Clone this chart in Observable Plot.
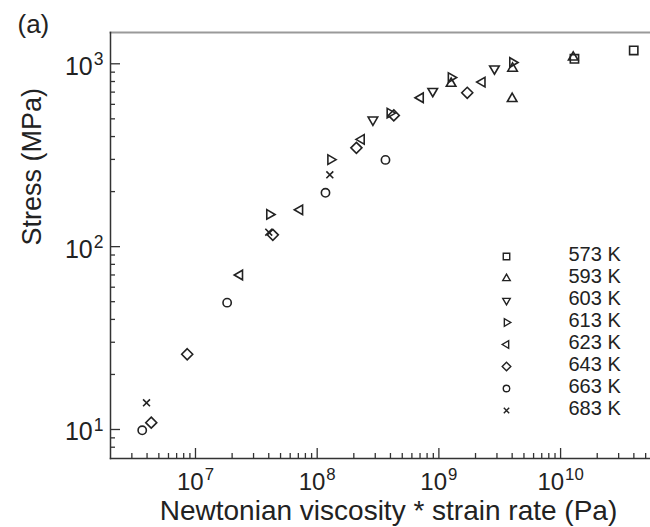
<!DOCTYPE html>
<html><head><meta charset="utf-8">
<script src="https://cdn.jsdelivr.net/npm/d3@7"></script>
<script src="https://cdn.jsdelivr.net/npm/@observablehq/plot@0.6"></script>
<style>
html,body{margin:0;padding:0;background:#fff;}
#wrap{position:relative;width:650px;height:527px;font-family:"Liberation Sans",Arial,Helvetica,sans-serif;}
#legend{position:absolute;left:490px;top:240px;}
svg{display:block;}
</style></head><body><div id="wrap"></div>
<script>
// ---- data ----
const temps = ["573 K","593 K","603 K","613 K","623 K","643 K","663 K","683 K"];
const x573 = [1.3e10, 3.99e10];
const y573 = [1065, 1183];
const x593 = [1.26e9, 4.03e9, 4.0e9, 1.27e10];
const y593 = [780, 943, 644, 1085];
const x603 = [2.87e8, 8.9e8, 2.86e9];
const y603 = [494, 708, 940];
const x613 = [4.06e7, 1.29e8, 3.96e8, 1.26e9, 4.03e9];
const y613 = [150, 299, 537, 841, 1016];
const x623 = [2.31e7, 7.2e7, 2.31e8, 7.06e8, 2.27e9];
const y623 = [70, 159, 386, 652, 794];
const x643 = [4.33e6, 8.55e6, 4.32e7, 2.1e8, 4.26e8, 1.71e9];
const y643 = [10.9, 25.8, 116, 347, 522, 694];
const x663 = [3.65e6, 1.82e7, 1.17e8, 3.64e8];
const y663 = [9.9, 49.4, 197, 298];
const x683 = [3.96e6, 4.0e7, 1.27e8];
const y683 = [14, 120, 247];

const xTickExps = [7, 8, 9, 10];
const yTickExps = [1, 2, 3];
const xLabel = "Newtonian viscosity * strain rate (Pa)";
const yLabel = "Stress (MPa)";
const panelLabel = "(a)";

// ---- build table ----
const seriesX = [x573, x593, x603, x613, x623, x643, x663, x683];
const seriesY = [y573, y593, y603, y613, y623, y643, y663, y683];
const points = [];
temps.forEach((t, i) => seriesX[i].forEach((x, j) => points.push({temp: t, x, y: seriesY[i][j]})));

// ---- custom symbols ----
function mk(draw) { return {draw(c, size) { draw(c, Math.sqrt(size / Math.PI)); }}; }
const s3 = Math.sqrt(3) / 2;
function tri(c, pts) { c.moveTo(pts[0][0], pts[0][1]); c.lineTo(pts[1][0], pts[1][1]); c.lineTo(pts[2][0], pts[2][1]); c.closePath(); }
const symSquare = mk((c, r) => { const h = r * 0.9; c.rect(-h, -h, 2 * h, 2 * h); });
const symUp = mk((c, r) => { const R = r * 1.2; tri(c, [[0, -R], [R * s3, R / 2], [-R * s3, R / 2]]); });
const symDown = mk((c, r) => { const R = r * 1.2; tri(c, [[0, R], [R * s3, -R / 2], [-R * s3, -R / 2]]); });
const symRight = mk((c, r) => { const R = r * 1.2; tri(c, [[R, 0], [-R / 2, R * s3], [-R / 2, -R * s3]]); });
const symLeft = mk((c, r) => { const R = r * 1.2; tri(c, [[-R, 0], [R / 2, R * s3], [R / 2, -R * s3]]); });
const symDiamond = mk((c, r) => { const d = r * 1.2; c.moveTo(0, -d); c.lineTo(d, 0); c.lineTo(0, d); c.lineTo(-d, 0); c.closePath(); });
const symCircle = mk((c, r) => { const q = r * 0.9; c.moveTo(q, 0); c.arc(0, 0, q, 0, 2 * Math.PI); });
const symTimes = mk((c, r) => { const t = r * 0.75; c.moveTo(-t, -t); c.lineTo(t, t); c.moveTo(-t, t); c.lineTo(t, -t); });
const symbols = [symSquare, symUp, symDown, symRight, symLeft, symDiamond, symCircle, symTimes];

// ---- ticks ----
const xDomain = [2.003e6, 5.48e10];
const yDomain = [6.94, 1483];
const xMajor = xTickExps.map(e => Math.pow(10, e));
const yMajor = yTickExps.map(e => Math.pow(10, e));
function minors(dom) {
  const out = [];
  for (let e = Math.floor(Math.log10(dom[0])); e <= Math.ceil(Math.log10(dom[1])); e++)
    for (let k = 2; k <= 9; k++) { const v = k * Math.pow(10, e); if (v > dom[0] * 1.01 && v < dom[1]) out.push(v); }
  return out;
}
const xMinor = minors(xDomain);
const yMinor = minors(yDomain);
const fmt = d => "10^" + Math.round(Math.log10(d));
const ink = "#222";

const chart = Plot.plot({
  width: 650, height: 527,
  marginLeft: 110, marginRight: 0, marginTop: 32, marginBottom: 69,
  x: {type: "log", domain: xDomain},
  y: {type: "log", domain: yDomain},
  symbol: {domain: temps, range: symbols},
  style: {fontFamily: "'Liberation Sans', Arial, Helvetica, sans-serif", color: ink, background: "white", overflow: "visible"},
  marks: [
    Plot.frame({anchor: "top", stroke: "#9a9a9a", strokeWidth: 2}),
    Plot.frame({anchor: "left", stroke: "#333", strokeWidth: 1.5}),
    Plot.frame({anchor: "bottom", stroke: "#333", strokeWidth: 1.5}),
    Plot.axisX({ticks: xMajor, tickSize: -10, tickFormat: () => "", label: null, stroke: "#333", strokeWidth: 1.3}),
    Plot.axisX({ticks: xMinor, tickSize: -5, tickFormat: () => "", label: null, stroke: "#333", strokeWidth: 1.3}),
    Plot.axisY({ticks: yMajor, tickSize: -10, tickFormat: () => "", label: null, stroke: "#333", strokeWidth: 1.3}),
    Plot.axisY({ticks: yMinor, tickSize: -5, tickFormat: () => "", label: null, stroke: "#333", strokeWidth: 1.3}),
    Plot.axisX({ticks: xMajor, tickSize: 0, tickPadding: 14, tickFormat: fmt, fontSize: 24, label: null, fill: ink}),
    Plot.axisY({ticks: yMajor, tickSize: 0, tickPadding: 7, dy: 3, tickFormat: fmt, fontSize: 25, label: null, fill: ink}),
    Plot.text([xLabel], {frameAnchor: "bottom", lineAnchor: "middle", dx: 8, dy: 52.7, fontSize: 28, fill: ink}),
    Plot.text([yLabel], {frameAnchor: "left", lineAnchor: "middle", rotate: -90, dx: -78, fontSize: 27, fill: ink}),
    Plot.text([panelLabel], {frameAnchor: "top-left", lineAnchor: "middle", dx: -93, dy: -8.3, textAnchor: "start", fontSize: 26, fill: ink}),
    Plot.dot(points, {x: "x", y: "y", symbol: "temp", r: 4.6, stroke: ink, strokeWidth: 1.6, fill: "none"})
  ]
});

const legend = Plot.plot({
  width: 160, height: 190,
  marginLeft: 0, marginRight: 0, marginTop: 15, marginBottom: 18.3,
  x: {axis: null, domain: [0, 1]},
  y: {type: "point", domain: temps, axis: null, padding: 0},
  symbol: {domain: temps, range: symbols},
  style: {fontFamily: "'Liberation Sans', Arial, Helvetica, sans-serif", color: ink, background: "transparent", overflow: "visible"},
  marks: [
    Plot.dot(temps, {y: d => d, symbol: d => d, frameAnchor: "left", dx: 16, r: 3.6, stroke: ink, strokeWidth: 1.4, fill: "none"}),
    Plot.text(temps, {y: d => d, text: d => d, frameAnchor: "left", lineAnchor: "middle", dx: 78, dy: -2, textAnchor: "start", fontSize: 20, fill: ink})
  ]
});
legend.id = "legend";

// superscripts for the power-of-ten tick labels
chart.querySelectorAll("text").forEach(t => {
  const m = /^10\^(\d+)$/.exec(t.textContent);
  if (!m) return;
  t.textContent = "10";
  const s = document.createElementNS("http://www.w3.org/2000/svg", "tspan");
  s.setAttribute("dy", "-0.55em");
  s.setAttribute("dx", "1");
  s.setAttribute("font-size", "0.7em");
  s.textContent = m[1];
  t.appendChild(s);
});

const wrap = document.getElementById("wrap");
wrap.appendChild(chart);
wrap.appendChild(legend);
</script></body></html>
